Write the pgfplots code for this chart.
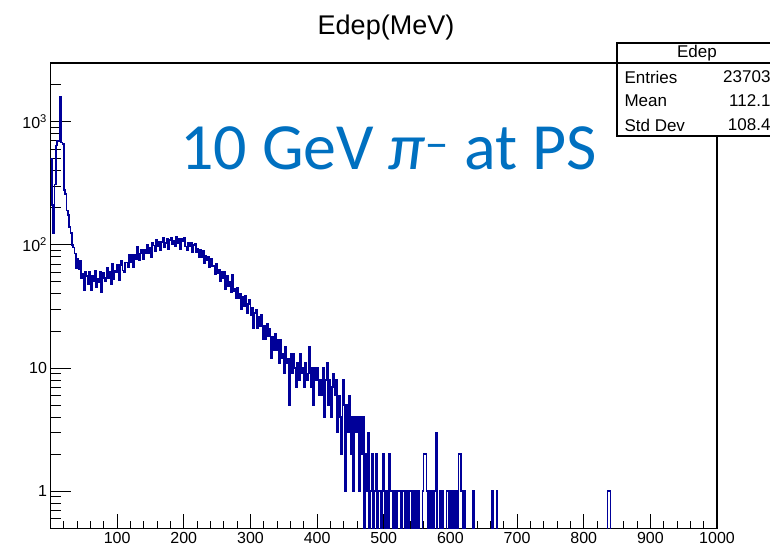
\documentclass[border=0pt]{standalone}
\usepackage{fontspec}
\setmainfont{Liberation Sans}
\newfontfamily\calibri{Carlito}
\usepackage{pgfplots}
\pgfplotsset{compat=1.18}
\usepackage{pgfplotstable}
\definecolor{histblue}{RGB}{0,0,153}
\definecolor{annblue}{RGB}{0,112,192}
\pgfplotstableread{
x y
0 500
2 210
4 125
6 310
8 640
10 700
12 700
14 1600
16 680
18 660
20 280
22 260
24 190
26 175
28 140
30 125
32 100
34 95
36 85
38 65
40 77
42 64
44 74
46 54
48 58
50 43
52 61
54 56
56 48
58 61
60 43
62 56
64 51
66 62
68 45
70 53
72 50
74 60
76 41
78 59
80 54
82 51
84 65
86 54
88 60
90 48
92 70
94 53
96 62
98 60
100 69
102 52
104 69
106 74
108 62
110 60
112 72
114 72
116 66
118 83
120 73
122 83
124 66
126 83
128 76
130 96
132 75
134 85
136 92
138 77
140 92
142 86
144 101
146 86
148 95
150 79
152 104
154 99
156 89
158 111
160 97
162 106
164 91
166 106
168 114
170 96
172 104
174 112
176 93
178 110
180 115
182 102
184 108
186 97
188 116
190 103
192 112
194 92
196 112
198 107
200 114
202 97
204 91
206 104
208 98
210 104
212 88
214 100
216 103
218 88
220 93
222 80
224 91
226 80
228 90
230 71
232 82
234 75
236 80
238 66
240 77
242 67
244 68
246 58
248 70
250 59
252 63
254 51
256 60
258 54
260 60
262 44
264 56
266 46
268 50
270 41
272 57
274 42
276 44
278 37
280 45
282 37
284 40
286 30
288 38
290 32
292 39
294 28
296 33
298 36
300 27
302 31
304 21
306 28
308 30
310 21
312 26
314 22
316 27
318 17
320 22
322 17
324 23
326 18
328 21
330 12
332 18
334 14
336 19
338 14
340 17
342 11
344 17
346 12
348 13
350 9
352 15
354 11
356 12
358 5
360 13
362 9
364 13
366 10
368 7
370 11
372 8
374 13
376 9
378 10
380 7
382 11
384 8
386 9
388 15
390 7
392 10
394 5
396 10
398 8
400 10
402 6
404 8
406 6
408 10
410 4
412 8
414 11
416 5
418 8
420 4
422 7
424 9
426 6
428 8
430 3
432 6
434 4
436 2
438 8
440 5
442 1
444 5
446 3
448 6
450 2
452 4
454 1
456 4
458 3
460 4
462 1
464 4
466 2
468 4
470 0.1
472 2
474 1
476 3
478 0.1
480 1
482 2
484 0.1
486 1
488 2
490 0.1
492 1
494 1
496 0.1
498 2
500 1
502 0.1
504 1
506 0.1
508 2
510 1
512 1
514 0.1
516 1
518 0.1
520 1
522 1
524 1
526 0.1
528 1
530 1
532 0.1
534 1
536 0.1
538 1
540 1
542 0.1
544 1
546 0.1
548 1
550 0.1
552 1
554 0.1
558 1
560 2
562 2
564 1
566 0.1
568 1
570 0.1
572 1
574 0.1
576 1
578 3
580 0.1
584 1
586 0.1
588 1
590 0.1
594 1
596 1
598 0.1
600 1
602 0.1
604 1
606 0.1
608 1
610 0.1
612 2
614 2
616 1
618 0.1
620 1
622 0.1
634 1
636 0.1
662 1
664 0.1
669 1
671 0.1
836 1
840 0.1
1000 0.1
}\edep

\begin{document}
\begin{tikzpicture}
\useasboundingbox (0pt,0pt) rectangle (770pt,549pt);
\clip (0pt,0pt) rectangle (770pt,549pt);
\fill[white] (0pt,0pt) rectangle (770pt,549pt);
\begin{axis}[
  at={(50.5pt,20.7pt)}, anchor=south west,
  scale only axis, width=666.5pt, height=465.3pt,
  xmin=0, xmax=1000, ymin=0.5, ymax=3000, ymode=log,
  axis line style={line width=1.2pt},
  tick align=inside, xtick pos=bottom, ytick pos=left,
  xtick={100,200,300,400,500,600,700,800,900,1000},
  xticklabels={100,200,300,400,500,600,700,800,900,1000},
  minor xtick={20,40,60,80,120,140,160,180,220,240,260,280,320,340,360,380,420,440,460,480,520,540,560,580,620,640,660,680,720,740,760,780,820,840,860,880,920,940,960,980},
  ytick={1,10,100,1000},
  yticklabels={1,10,10\textsuperscript{2},10\textsuperscript{3}},
  minor ytick={0.6,0.7,0.8,0.9,2,3,4,5,6,7,8,9,20,30,40,50,60,70,80,90,200,300,400,500,600,700,800,900,2000},
  xtick style={/pgfplots/major tick length=14pt,/pgfplots/minor tick length=7pt,line width=1pt,black},
  ytick style={/pgfplots/major tick length=21pt,/pgfplots/minor tick length=11pt,line width=1pt,black},
  ticklabel style={font=\fontsize{16}{16}\selectfont},
  clip=true,
]
\addplot[const plot mark left, histblue, line width=1.5pt] table {\edep};
\end{axis}
\node[font=\fontsize{27}{27}\selectfont] at (386pt,521pt) {Edep(MeV)};
\draw[line width=1.2pt, fill=white] (617pt,506pt) rectangle (790pt,413pt);
\draw[line width=1.2pt] (617pt,486pt) -- (790pt,486pt);
\node[font=\fontsize{17}{17}\selectfont] at (697pt,496pt) {Edep};
\node[anchor=west,font=\fontsize{17}{17}\selectfont] at (621pt,472pt) {Entries};
\node[anchor=east,font=\fontsize{17}{17}\selectfont] at (774pt,472pt) {23703};
\node[anchor=west,font=\fontsize{17}{17}\selectfont] at (621pt,448pt) {Mean};
\node[anchor=east,font=\fontsize{17}{17}\selectfont] at (774pt,448pt) {112.1};
\node[anchor=west,font=\fontsize{17}{17}\selectfont] at (621pt,424pt) {Std Dev};
\node[anchor=east,font=\fontsize{17}{17}\selectfont] at (774pt,424pt) {108.4};
\node[anchor=base west, inner sep=0, text=annblue, font=\calibri\fontsize{66}{66}\selectfont] at (180pt,379pt) {10 GeV \textit{π}\textsuperscript{−} at PS};
\end{tikzpicture}
\end{document}
